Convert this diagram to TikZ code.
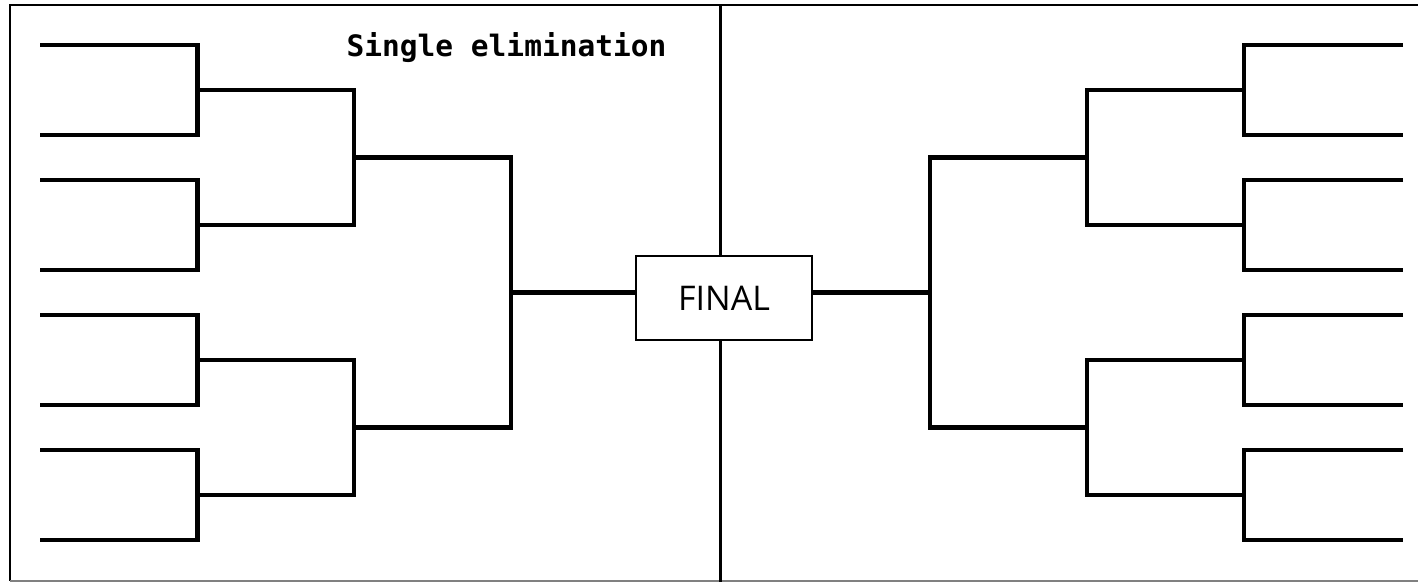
\documentclass[tikz,border=0pt]{standalone}
\usepackage{fontspec}
\setmainfont{Open Sans}
\newfontfamily\titlefont{DejaVu Sans Mono}
\begin{document}
\begin{tikzpicture}[x=1pt,y=-1pt,
  br/.style={line width=4.5pt, line join=miter, line cap=butt},
  frame/.style={line width=2pt},
  finalbox/.style={draw, fill=white, line width=1.3pt, minimum width=176pt, minimum height=84pt, inner sep=0pt, font=\fontsize{34}{40}\selectfont},
  titletext/.style={font=\titlefont\bfseries\fontsize{29.5}{34}\selectfont, anchor=base, inner sep=0pt}]
\useasboundingbox (0,0) rectangle (1418,582);
% frame
\draw[frame] (1418,5) -- (10,5) -- (10,581);
\draw[gray, line width=1.5pt] (10,580.8) -- (1418,580.8);
\draw[line width=3pt] (720.5,5) -- (720.5,582);
% title
\node[titletext] (title) at (506.5,56) {Single elimination};
% final
\node[finalbox] (final) at (724,298) {FINAL};
% left brackets
\foreach \a/\b in {45/135,180/270,315/405,450/540}{
  \draw[br] (40,\a) -- (197.5,\a) -- (197.5,\b) -- (40,\b);
  \draw[br] (197.5,{(\a+\b)/2}) -- (354,{(\a+\b)/2});
}
\foreach \a/\b in {90/225,360/495}{
  \draw[br] (197.5,\a) -- (354,\a) -- (354,\b) -- (197.5,\b);
  \draw[br] (354,{(\a+\b)/2}) -- (511,{(\a+\b)/2});
}
\draw[br] (354,157.5) -- (511,157.5) -- (511,427.5) -- (354,427.5);
\coordinate (lj) at (511,292.5);
\draw[br] (lj) -- (final.west |- lj);
% right brackets
\foreach \a/\b in {45/135,180/270,315/405,450/540}{
  \draw[br] (1403,\a) -- (1244,\a) -- (1244,\b) -- (1403,\b);
  \draw[br] (1244,{(\a+\b)/2}) -- (1087,{(\a+\b)/2});
}
\foreach \a/\b in {90/225,360/495}{
  \draw[br] (1244,\a) -- (1087,\a) -- (1087,\b) -- (1244,\b);
  \draw[br] (1087,{(\a+\b)/2}) -- (930,{(\a+\b)/2});
}
\draw[br] (1087,157.5) -- (930,157.5) -- (930,427.5) -- (1087,427.5);
\coordinate (rj) at (930,292.5);
\draw[br] (rj) -- (final.east |- rj);
\end{tikzpicture}
\end{document}
